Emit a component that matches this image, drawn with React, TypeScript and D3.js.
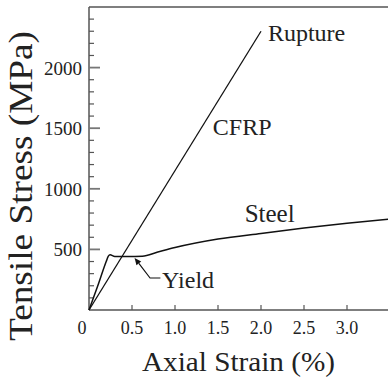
import React from "react";
import * as d3 from "d3";

const steelStrain = [0, 0.1, 0.2, 0.225, 0.245, 0.3, 0.45, 0.62, 0.8, 1.0, 1.5, 2.0, 2.5, 3.0, 3.5];
const steelStress = [0, 195, 400, 445, 455, 442, 442, 444, 478, 515, 585, 632, 676, 716, 750];
const cfrpStrain = [0, 2.0];
const cfrpStress = [0, 2300];
const xTicks = [0.5, 1.0, 1.5, 2.0, 2.5, 3.0];
const xTickLabels = ["0.5", "1.0", "1.5", "2.0", "2.5", "3.0"];
const yMajor = [500, 1000, 1500, 2000];
const yMinor = d3.range(100, 2500, 100);

const W = 388, H = 378;
const x = d3.scaleLinear().domain([0, 3.5]).range([89, 390]);
const y = d3.scaleLinear().domain([0, 2500]).range([310, 7]);

const FONT = '"Liberation Serif", "Times New Roman", Times, "DejaVu Serif", serif';

function T(props: any) {
  const { style, ...rest } = props;
  return <text {...rest} style={{ fontFamily: FONT, ...(style || {}) }} />;
}

export default function App() {
  const line = d3.line<[number, number]>().x(d => x(d[0])).y(d => y(d[1])).curve(d3.curveMonotoneX);
  const steel = steelStrain.map((v, i) => [v, steelStress[i]] as [number, number]);
  const cfrp = cfrpStrain.map((v, i) => [v, cfrpStress[i]] as [number, number]);
  const axisColor = "#555";
  const tip = [x(0.53), y(430)];
  const bend = [x(0.71), y(264)];
  const end = [x(0.83), y(264)];
  const ang = Math.atan2(tip[1] - bend[1], tip[0] - bend[0]);
  const ah = 7, aw = 3;
  const b0 = tip[0] - ah * Math.cos(ang), b1 = tip[1] - ah * Math.sin(ang);
  const arrow = `M${tip[0]},${tip[1]} L${b0 + aw * Math.sin(ang)},${b1 - aw * Math.cos(ang)} L${b0 - aw * Math.sin(ang)},${b1 + aw * Math.cos(ang)} Z`;
  return (
    <svg width={W} height={H} style={{ position: "absolute", left: 0, top: 0, background: "#fff" }}>
      <rect width={W} height={H} fill="#fff" />
      <line x1={x(0)} x2={W} y1={y(2500)} y2={y(2500)} stroke={axisColor} strokeWidth={1.5} />
      <line x1={x(0)} x2={x(0)} y1={y(2500)} y2={y(0)} stroke={axisColor} strokeWidth={1.5} />
      <line x1={x(0)} x2={W} y1={y(0)} y2={y(0)} stroke={axisColor} strokeWidth={1.5} />
      {yMinor.filter(v => !yMajor.includes(v)).map(v => (
        <line key={v} x1={x(0)} x2={x(0) + 5} y1={y(v)} y2={y(v)} stroke={axisColor} strokeWidth={1.2} />
      ))}
      {yMajor.map(v => (
        <g key={v}>
          <line x1={x(0)} x2={x(0) + 11} y1={y(v)} y2={y(v)} stroke="#777" strokeWidth={1.8} />
          <T x={82} y={y(v) + 7} textAnchor="end" fontSize={19} fill="#222">{v}</T>
        </g>
      ))}
      {xTicks.map((v, i) => (
        <g key={v}>
          <line x1={x(v)} x2={x(v)} y1={y(0)} y2={y(0) - 5} stroke={axisColor} strokeWidth={1.2} />
          <T x={x(v)} y={334} textAnchor="middle" fontSize={18} fill="#222">{xTickLabels[i]}</T>
        </g>
      ))}
      <T x={82} y={334} textAnchor="middle" fontSize={18} fill="#222">0</T>
      <path d={line(cfrp) || ""} fill="none" stroke="#111" strokeWidth={1.3} />
      <path d={line(steel) || ""} fill="none" stroke="#111" strokeWidth={1.5} />
      <polyline points={`${end[0]},${end[1]} ${bend[0]},${bend[1]} ${b0},${b1}`} fill="none" stroke="#111" strokeWidth={1.2} />
      <path d={arrow} fill="#111" />
      <T x={x(0.85)} y={y(182)} fontSize={24} fill="#222">Yield</T>
      <T x={x(2.08)} y={y(2220)} fontSize={24} fill="#222">Rupture</T>
      <T x={x(1.44)} y={y(1444)} fontSize={24} fill="#222">CFRP</T>
      <T x={x(1.81)} y={y(726)} fontSize={25} fill="#222">Steel</T>
      <T x={238.5} y={371} textAnchor="middle" fontSize={28} fill="#222" textLength={193} lengthAdjust="spacingAndGlyphs">Axial Strain (%)</T>
      <T transform="translate(32,186) rotate(-90)" textAnchor="middle" fontSize={34} fill="#222" textLength={310} lengthAdjust="spacingAndGlyphs">Tensile Stress (MPa)</T>
    </svg>
  );
}
